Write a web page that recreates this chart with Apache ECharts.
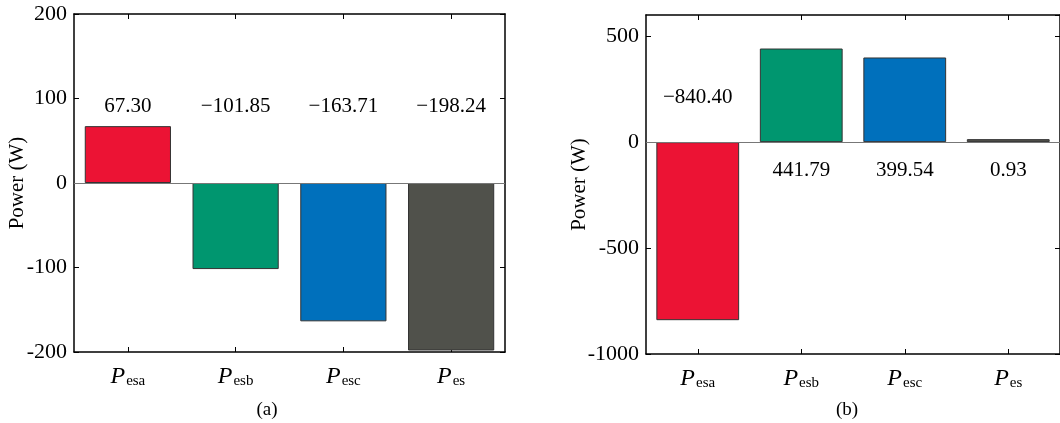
<!DOCTYPE html>
<html>
<head>
<meta charset="utf-8">
<script src="https://cdn.jsdelivr.net/npm/echarts@6/dist/echarts.min.js"></script>
<style>
  html, body { margin: 0; padding: 0; background: #fff; }
  #main { width: 1060px; height: 423px; }
</style>
</head>
<body>
<div id="main"></div>
<script>
// categories (subscripts of P) and bar values
const categories = ['esa', 'esb', 'esc', 'es'];
const valuesA = [67.30, -101.85, -163.71, -198.24];
const valuesB = [-840.40, 441.79, 399.54, 0.93];
const barColors = ['#ec1334', '#00966f', '#0070bc', '#50514b'];
const ticksA = {min: -200, max: 200, interval: 100};
const ticksB = {min: -1000, max: 600, interval: 500};

const FONT = 'Liberation Serif';

function fmtValue(v) {
    return v < 0 ? '\u2212' + Math.abs(v).toFixed(2) : v.toFixed(2);
}

function frameX(gridIndex, position, showLabels) {
    return {
        type: 'category',
        gridIndex: gridIndex,
        position: position,
        data: categories,
        axisLine: {onZero: false, lineStyle: {color: '#000', width: 1.5}},
        axisTick: {show: true, inside: true, alignWithLabel: true, length: 5, lineStyle: {color: '#000', width: 1}},
        axisLabel: {
            show: showLabels,
            margin: 12,
            formatter: s => '{p|P}{s|' + s + '}',
            rich: {
                p: {fontFamily: FONT, fontStyle: 'italic', fontSize: 24, color: '#000', lineHeight: 26},
                s: {fontFamily: FONT, fontSize: 15, color: '#000', padding: [9, 0, 0, 1]}
            }
        },
        splitLine: {show: false}
    };
}

function frameY(gridIndex, position, ticks, showLabels, nameGap) {
    return {
        type: 'value',
        gridIndex: gridIndex,
        position: position,
        min: ticks.min,
        max: ticks.max,
        interval: ticks.interval,
        name: showLabels ? 'Power (W)' : '',
        nameLocation: 'middle',
        nameGap: nameGap,
        nameMoveOverlap: false,
        nameTextStyle: {fontFamily: FONT, fontSize: 21, color: '#000'},
        axisLine: {show: true, lineStyle: {color: '#000', width: 1.5}},
        axisTick: {show: true, inside: true, length: 5, lineStyle: {color: '#000', width: 1}},
        axisLabel: {
            show: showLabels,
            margin: 7,
            showMaxLabel: ticks.max % ticks.interval === 0,
            formatter: v => String(v),
            fontFamily: FONT, fontSize: 22, color: '#000'
        },
        splitLine: {show: false}
    };
}

function barSeries(idx, values) {
    return {
        type: 'bar',
        xAxisIndex: idx * 2,
        yAxisIndex: idx * 2,
        barCategoryGap: '20%',
        barMinHeight: 3,
        data: values.map((v, i) => ({
            value: v,
            itemStyle: {
                color: barColors[i],
                borderColor: '#333',
                borderWidth: 1
            }
        })),
        markLine: {
            silent: true,
            symbol: 'none',
            label: {show: false},
            lineStyle: {color: '#777', width: 1, type: 'solid'},
            data: [{yAxis: 0}]
        },
        z: 2
    };
}

// value labels sit at a fixed level of each panel
function labelSeries(idx, values, levels) {
    return {
        type: 'scatter',
        xAxisIndex: idx * 2,
        yAxisIndex: idx * 2,
        symbolSize: 0,
        silent: true,
        itemStyle: {opacity: 1},
        data: values.map((v, i) => [i, levels[i]]),
        label: {
            show: true,
            position: 'inside',
            fontFamily: FONT,
            fontSize: 21,
            color: '#000',
            formatter: p => fmtValue(values[p.dataIndex])
        }
    };
}

const chart = echarts.init(document.getElementById('main'));
chart.setOption({
    animation: false,
    grid: [
        {left: 74, top: 14, width: 431, height: 338},
        {left: 646, top: 15, width: 420, height: 339}
    ],
    xAxis: [
        frameX(0, 'bottom', true),
        frameX(0, 'top', false),
        frameX(1, 'bottom', true),
        frameX(1, 'top', false)
    ],
    yAxis: [
        frameY(0, 'left', ticksA, true, 46),
        frameY(0, 'right', ticksA, false, 0),
        frameY(1, 'left', ticksB, true, 56),
        frameY(1, 'right', ticksB, false, 0)
    ],
    series: [
        barSeries(0, valuesA),
        labelSeries(0, valuesA, [90, 90, 90, 90]),
        barSeries(1, valuesB),
        labelSeries(1, valuesB, [212, -132, -132, -132])
    ],
    graphic: [
        {type: 'text', x: 267, y: 410, style: {text: '(a)', font: '19px "Liberation Serif"', fill: '#000', textAlign: 'center', textVerticalAlign: 'middle'}},
        {type: 'text', x: 847, y: 410, style: {text: '(b)', font: '19px "Liberation Serif"', fill: '#000', textAlign: 'center', textVerticalAlign: 'middle'}}
    ]
});
</script>
</body>
</html>
